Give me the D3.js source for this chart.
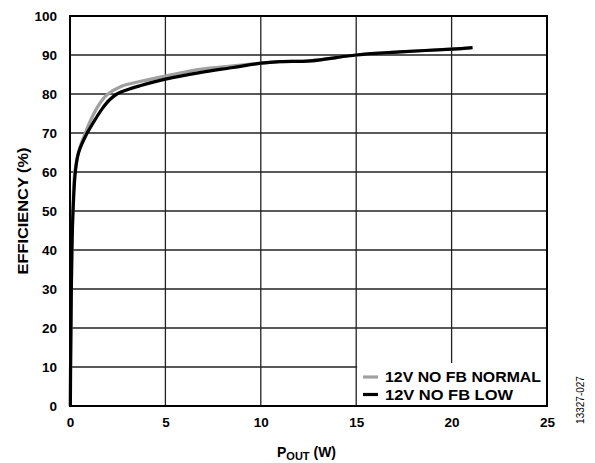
<!DOCTYPE html>
<html><head><meta charset="utf-8">
<script src="https://cdn.jsdelivr.net/npm/d3@7"></script>
<style>body{margin:0;background:#fff}svg{display:block}text{font-family:"Liberation Sans",Arial,sans-serif}</style>
</head><body>
<svg id="c" width="595" height="463"></svg>
<script>
const xTicks = [0, 5, 10, 15, 20, 25];
const yTicks = [0, 10, 20, 30, 40, 50, 60, 70, 80, 90, 100];
const seriesNames = ["12V NO FB NORMAL", "12V NO FB LOW"];
const normalP = [0.02, 0.03, 0.05, 0.07, 0.1, 0.15, 0.25, 0.5, 0.8, 1.2, 1.55, 1.94, 2.7, 3.67, 5, 6.8, 8.55, 10, 11, 12.6, 15, 17.3, 20, 21];
const normalE = [0, 10, 20, 30, 40, 50, 60, 66, 70, 74.5, 77.5, 79.8, 82, 83.2, 84.6, 86.3, 87.2, 87.9, 88.3, 88.5, 90, 90.8, 91.5, 91.8];
const lowP = [0.02, 0.03, 0.05, 0.07, 0.1, 0.16, 0.28, 0.45, 0.9, 1.2, 1.7, 2.05, 2.46, 3.0, 3.67, 5, 6.8, 8.55, 10, 11, 12.6, 15, 17.3, 20, 21.1];
const lowE = [0, 10, 20, 30, 40, 50, 60, 65, 70, 72.5, 76.3, 78.4, 80, 81.1, 82.1, 83.8, 85.5, 86.8, 87.9, 88.3, 88.5, 90, 90.8, 91.5, 91.9];

const svg = d3.select("#c");
const L = 70, R = 547, T = 16, B = 406;
const x = d3.scaleLinear().domain([0, 25]).range([L, R]);
const y = d3.scaleLinear().domain([0, 100]).range([B, T]);

// grid
const g = svg.append("g");
g.selectAll(".vx").data(xTicks.slice(1, -1)).join("line")
  .attr("x1", d => x(d)).attr("x2", d => x(d)).attr("y1", T).attr("y2", B)
  .attr("stroke", "#222").attr("stroke-width", 1.3);
g.selectAll(".hy").data(yTicks.slice(1, -1)).join("line")
  .attr("x1", L).attr("x2", R).attr("y1", d => y(d)).attr("y2", d => y(d))
  .attr("stroke", "#222").attr("stroke-width", 1.3);

// axes labels via d3 axes
const xAxis = svg.append("g").attr("transform", `translate(0,${B})`)
  .call(d3.axisBottom(x).tickValues(xTicks).tickSize(0).tickPadding(11));
const yAxis = svg.append("g").attr("transform", `translate(${L},0)`)
  .call(d3.axisLeft(y).tickValues(yTicks).tickSize(0).tickPadding(13));
[xAxis, yAxis].forEach(a => {
  a.select(".domain").remove();
  a.selectAll("text").attr("font-size", 13.5).attr("font-weight", "bold")
    .attr("fill", "#000").attr("font-family", '"Liberation Sans",Arial,sans-serif');
});

// lines
const normalData = normalP.map((p, i) => [p, normalE[i]]);
const lowData = lowP.map((p, i) => [p, lowE[i]]);
const lineY = d3.line().x(d => x(d[0])).y(d => y(d[1])).curve(d3.curveCatmullRom.alpha(0.5));
svg.append("path").attr("d", lineY(normalData)).attr("fill", "none")
  .attr("stroke", "#a0a0a0").attr("stroke-width", 3.2);
svg.append("path").attr("d", lineY(lowData)).attr("fill", "none")
  .attr("stroke", "#000").attr("stroke-width", 3.2);

// legend
const lg = svg.append("g");
lg.append("rect").attr("x", x(15) + 1).attr("y", 363).attr("width", R - x(15) - 1).attr("height", B - 363)
  .attr("fill", "#fff");
const colors = ["#a0a0a0", "#000"];
const legendLens = [156, 128];
seriesNames.forEach((n, i) => {
  const yy = 377 + i * 17.5;
  lg.append("line").attr("x1", 363).attr("x2", 378).attr("y1", yy).attr("y2", yy)
    .attr("stroke", colors[i]).attr("stroke-width", 3.2);
  lg.append("text").attr("x", 385).attr("y", yy + 5).text(n)
    .attr("font-size", 14).attr("font-weight", "bold")
    .attr("textLength", legendLens[i]).attr("lengthAdjust", "spacingAndGlyphs");
});

// border
svg.append("rect").attr("x", L).attr("y", T).attr("width", R - L).attr("height", B - T)
  .attr("fill", "none").attr("stroke", "#000").attr("stroke-width", 2);

// titles
svg.append("text").attr("transform", `translate(28,211) rotate(-90)`)
  .attr("text-anchor", "middle").attr("font-size", 14).attr("font-weight", "bold")
  .attr("textLength", 127).attr("lengthAdjust", "spacingAndGlyphs").text("EFFICIENCY (%)");
const xt = svg.append("text").attr("x", 277).attr("y", 457)
  .attr("font-size", 14).attr("font-weight", "bold");
xt.append("tspan").text("P");
xt.append("tspan").attr("font-size", 11).attr("dy", 3).text("OUT");
xt.append("tspan").attr("dy", -3).text(" (W)");

svg.append("text").attr("transform", "translate(584,400) rotate(-90)")
  .attr("text-anchor", "middle").attr("font-size", 10).attr("fill", "#000").text("13327-027");
</script>
</body></html>
